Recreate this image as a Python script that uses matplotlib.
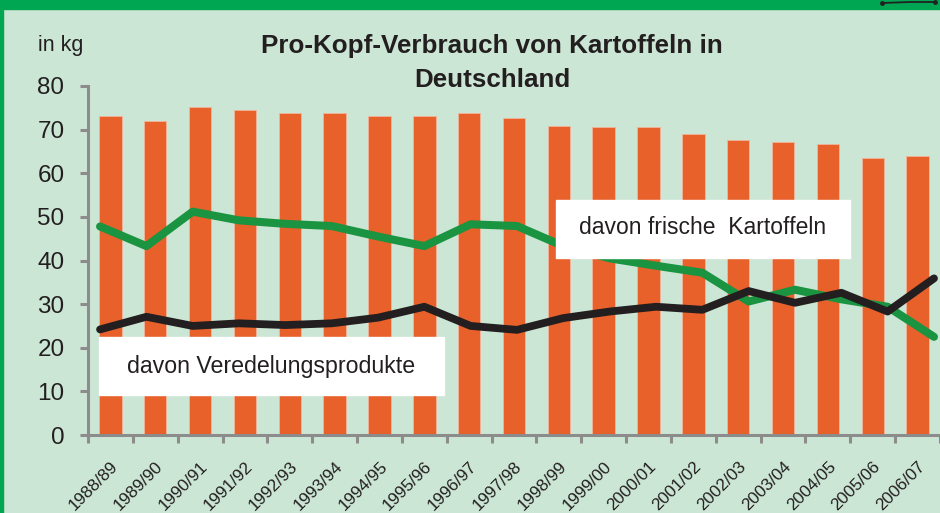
import numpy as np
import matplotlib.pyplot as plt
from matplotlib.patches import Rectangle
from matplotlib.lines import Line2D

# Daten (kg pro Kopf)
jahre = ['1988/89', '1989/90', '1990/91', '1991/92', '1992/93', '1993/94',
         '1994/95', '1995/96', '1996/97', '1997/98', '1998/99', '1999/00',
         '2000/01', '2001/02', '2002/03', '2003/04', '2004/05', '2005/06',
         '2006/07']
gesamt = [73.2, 72.0, 75.3, 74.5, 73.8, 73.8, 73.2, 73.2, 73.8, 72.6,
          70.9, 70.5, 70.5, 69.0, 67.6, 67.2, 66.8, 63.5, 63.9]
frisch = [47.8, 43.3, 51.2, 49.2, 48.4, 47.9, 45.5, 43.3, 48.3, 47.9,
          43.3, 40.5, 38.8, 37.2, 30.6, 33.3, 31.1, 29.4, 22.5]
veredelt = [24.2, 27.1, 25.0, 25.6, 25.2, 25.6, 26.9, 29.4, 25.0, 24.1,
            26.8, 28.3, 29.4, 28.7, 33.0, 30.3, 32.6, 28.3, 35.9]

bg = '#cce6d5'
gruen_rand = '#00a651'
orange = '#e8602a'
gruen_linie = '#1a9440'
schwarz = '#231f20'
grau = '#8c8c8c'

plt.rcParams['font.family'] = ['Liberation Sans Narrow', 'Liberation Sans', 'DejaVu Sans']

fig = plt.figure(figsize=(9.4, 5.13), dpi=100, facecolor=bg)
ax = fig.add_axes([88/940, 78/513, 852/940, 349/513])
ax.set_facecolor('none')

x = np.arange(len(jahre))
ax.bar(x, gesamt, width=0.5, color=orange, edgecolor='#f2b49a', linewidth=0.6, zorder=2)
ax.set_xlim(-0.5, len(jahre) - 0.5)
ax.set_ylim(0, 80)

# Achsen im Excel-Stil
for s in ['top', 'right']:
    ax.spines[s].set_visible(False)
for s in ['left', 'bottom']:
    ax.spines[s].set_color(grau)
    ax.spines[s].set_linewidth(2.2)
ax.set_yticks(range(0, 81, 10))
ax.tick_params(axis='y', colors=grau, length=6, width=2.2, pad=11,
               labelsize=17.5, labelcolor=schwarz)
ax.set_xticks(np.arange(-0.5, len(jahre), 1.0))
ax.set_xticklabels([])
ax.tick_params(axis='x', which='major', colors=grau, length=6, width=2.2)
ax.set_xticks(x, jahre, minor=True)
ax.tick_params(axis='x', which='minor', length=0, pad=17, labelsize=12.3,
               labelcolor=schwarz)
for lbl in ax.get_xticklabels(minor=True):
    lbl.set_rotation(45)
    lbl.set_ha('right')
    lbl.set_rotation_mode('anchor')

# Linien auf eigener x-Achse (wie im Original leicht versetzt)
ax2 = ax.twiny()
ax2.set_xlim(-0.26, 18.13)
ax2.set_ylim(0, 80)
ax2.axis('off')
ax2.plot(x, frisch, color=gruen_linie, lw=5.8, solid_capstyle='round', solid_joinstyle='round')
ax2.plot(x, veredelt, color=schwarz, lw=5.6, solid_capstyle='round', solid_joinstyle='round')

# Rahmen
fig.patches.append(Rectangle((0, 1 - 9/513), 1, 9/513, transform=fig.transFigure,
                             color=gruen_rand, zorder=3))
fig.patches.append(Rectangle((0, 0), 3/940, 1, transform=fig.transFigure,
                             color=gruen_rand, zorder=3))
# kleiner Strich oben rechts
fig.lines.append(Line2D([882/940, 910/940, 935/940], [1 - 3/513, 1 - 2/513, 1 - 2/513],
                        transform=fig.transFigure, color='#222222', lw=1.3,
                        marker='o', markersize=2.5, markevery=[0, 2], zorder=4))

# Beschriftungsboxen
fig.patches.append(Rectangle((556/940, (513-258)/513), 294/940, 58/513,
                             transform=fig.transFigure, color='white', zorder=5))
fig.text(703/940, (513-228)/513, 'davon frische  Kartoffeln', ha='center', va='center',
         fontsize=16.5, color=schwarz, zorder=6)
fig.patches.append(Rectangle((99/940, (513-395)/513), 345/940, 58/513,
                             transform=fig.transFigure, color='white', zorder=5))
fig.text(271/940, (513-366)/513, 'davon Veredelungsprodukte', ha='center', va='center',
         fontsize=16.7, color=schwarz, zorder=6)

fig.text(492/940, (513-63)/513, 'Pro-Kopf-Verbrauch von Kartoffeln in\nDeutschland',
         ha='center', va='center', fontsize=18.7, fontweight='bold', color=schwarz,
         linespacing=1.5)
fig.text(38/940, (513-45)/513, 'in kg', ha='left', va='center', fontsize=15.5, color=schwarz)

fig.savefig('out.png', dpi=100, facecolor=bg)
